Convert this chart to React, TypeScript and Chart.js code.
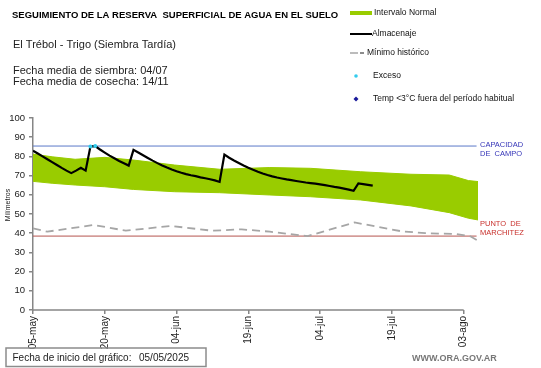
import React, { useEffect, useRef } from 'react';
import { Chart, registerables } from 'chart.js';

Chart.register(...registerables);

// ---- data ----
const TICK_DAYS = [0, 15, 30, 45, 60, 75, 90];
const TICK_LABELS = ['05-may', '20-may', '04-jun', '19-jun', '04-jul', '19-jul', '03-ago'];

// Almacenaje: daily values from 05-may (day 0)
const ALMACENAJE = [
  83.0, 81.5, 80.0, 78.5, 77.0, 75.5, 74.0, 72.6, 71.3, 72.6,
  74.1, 72.6, 85.2, 85.4, 83.6, 82.0, 80.4, 79.0, 77.6, 76.4,
  75.2, 83.4, 82.0, 80.6, 79.2, 77.8, 76.5, 75.3, 74.2, 73.2,
  72.3, 71.5, 70.8, 70.2, 69.7, 69.1, 68.6, 68.1, 67.5, 66.7,
  80.9, 79.3, 77.9, 76.6, 75.3, 74.1, 73.0, 72.0, 71.1, 70.3,
  69.6, 69.0, 68.5, 68.0, 67.6, 67.2, 66.8, 66.4, 66.1, 65.8,
  65.4, 65.0, 64.6, 64.1, 63.7, 63.2, 62.7, 62.1, 65.9, 65.6,
  65.2, 64.8,
];

const EXCESO_DAYS = [12, 13];
const EXCESO_VALUES = [85.2, 85.4];

const BAND_DAYS = [0, 4, 8.8, 15, 21, 29.6, 39, 49.5, 58, 68.5, 79, 87, 91, 93];
const BAND_UPPER = [81.2, 79.8, 78.5, 79.5, 78.1, 75.5, 73.3, 74.2, 73.8, 72.0, 70.7, 70.3, 67.4, 66.9];
const BAND_LOWER = [67.0, 66.0, 65.1, 64.2, 62.8, 61.6, 61.1, 59.9, 59.0, 57.3, 54.2, 50.7, 47.8, 46.9];

const MIN_DAYS = [0, 3, 12.7, 19.4, 28.8, 37.4, 43.6, 49.5, 57.4, 67.2, 77, 82, 88.5, 91.4, 93];
const MIN_VALUES = [42.5, 40.8, 44.3, 41.3, 43.8, 41.3, 42.0, 40.8, 38.5, 45.6, 41.0, 40.0, 39.6, 38.4, 36.1];

const CAPACIDAD = 85.4;
const MARCHITEZ = 38.5;
const REF_DAYS = [0, 92.7];

// ---- styles ----
const FONT = '"Liberation Sans", Arial, sans-serif';
const AXIS_COLOR = '#868686';
const GREEN = '#99cc00';

const pts = (xs: number[], ys: number[]) => xs.map((x, i) => ({ x, y: ys[i] }));

const overlay = {
  id: 'overlay',
  afterDraw(chart: any) {
    const ctx = chart.ctx as CanvasRenderingContext2D;
    const xs = chart.scales.x;
    const ys = chart.scales.y;
    ctx.save();
    // x axis line (ends at last tick)
    ctx.strokeStyle = AXIS_COLOR;
    ctx.lineWidth = 1.5;
    const y0 = ys.getPixelForValue(0);
    ctx.beginPath();
    ctx.moveTo(xs.getPixelForValue(0), y0);
    ctx.lineTo(xs.getPixelForValue(TICK_DAYS[TICK_DAYS.length - 1]), y0);
    ctx.stroke();

    ctx.textBaseline = 'middle';
    ctx.textAlign = 'left';
    // title block
    ctx.fillStyle = '#000';
    ctx.font = `bold 9.5px ${FONT}`;
    ctx.fillText('SEGUIMIENTO DE LA RESERVA  SUPERFICIAL DE AGUA EN EL SUELO', 12, 15);
    ctx.fillStyle = '#222';
    ctx.font = `11px ${FONT}`;
    ctx.fillText('El Trébol - Trigo (Siembra Tardía)', 13, 45);
    ctx.fillText('Fecha media de siembra: 04/07', 13, 71);
    ctx.fillText('Fecha media de cosecha: 14/11', 13, 82);

    // legend
    ctx.font = `8.5px ${FONT}`;
    ctx.fillStyle = GREEN;
    ctx.fillRect(350, 11, 22, 4);
    ctx.fillStyle = '#111';
    ctx.fillText('Intervalo Normal', 374, 13);

    ctx.strokeStyle = '#000';
    ctx.lineWidth = 2;
    ctx.beginPath();
    ctx.moveTo(350, 34);
    ctx.lineTo(372, 34);
    ctx.stroke();
    ctx.fillText('Almacenaje', 372, 34);

    ctx.strokeStyle = '#a6a6a6';
    ctx.lineWidth = 1.5;
    ctx.beginPath();
    ctx.moveTo(350, 53);
    ctx.lineTo(358, 53);
    ctx.stroke();
    ctx.strokeStyle = '#666';
    ctx.beginPath();
    ctx.moveTo(360, 53);
    ctx.lineTo(364, 53);
    ctx.stroke();
    ctx.fillText('Mínimo histórico', 367, 53);

    ctx.fillStyle = '#33ccee';
    ctx.beginPath();
    ctx.arc(356, 76, 1.8, 0, Math.PI * 2);
    ctx.fill();
    ctx.fillStyle = '#111';
    ctx.fillText('Exceso', 373, 76);

    ctx.fillStyle = '#1a1a9a';
    ctx.beginPath();
    ctx.moveTo(356, 96.5);
    ctx.lineTo(358.5, 99);
    ctx.lineTo(356, 101.5);
    ctx.lineTo(353.5, 99);
    ctx.closePath();
    ctx.fill();
    ctx.fillStyle = '#111';
    ctx.fillText('Temp <3°C fuera del período habitual', 373, 99);

    // reference line labels
    const xr = chart.chartArea.right + 2;
    const pc = ys.getPixelForValue(CAPACIDAD);
    const pm = ys.getPixelForValue(MARCHITEZ);
    ctx.font = `7.5px ${FONT}`;
    ctx.fillStyle = '#3535b8';
    ctx.fillText('CAPACIDAD', xr, pc - 1);
    ctx.fillText('DE  CAMPO', xr, pc + 8);
    ctx.fillStyle = '#c8302c';
    ctx.fillText('PUNTO  DE', xr, pm - 12);
    ctx.fillText('MARCHITEZ', xr, pm - 3);

    // y axis title
    ctx.save();
    ctx.translate(8, 205);
    ctx.rotate(-Math.PI / 2);
    ctx.textAlign = 'center';
    ctx.fillStyle = '#222';
    ctx.font = `7px ${FONT}`;
    ctx.fillText('Milímetros', 0, 0);
    ctx.restore();

    // bottom box
    ctx.strokeStyle = '#8c8c8c';
    ctx.lineWidth = 1.5;
    ctx.strokeRect(6, 348, 200, 18.5);
    ctx.fillStyle = '#222';
    ctx.font = `10px ${FONT}`;
    ctx.fillText('Fecha de inicio del gráfico:', 12.5, 358);
    ctx.fillText('05/05/2025', 139, 358);

    ctx.fillStyle = '#777';
    ctx.font = `bold 9px ${FONT}`;
    ctx.fillText('WWW.ORA.GOV.AR', 412, 359);
    ctx.restore();
  },
};

export default function App() {
  const ref = useRef<HTMLCanvasElement>(null);
  useEffect(() => {
    if (!ref.current) return;
    const chart = new Chart(ref.current, {
      type: 'line',
      data: {
        datasets: [
          {
            label: 'upper',
            data: pts(BAND_DAYS, BAND_UPPER),
            borderColor: GREEN,
            borderWidth: 1,
            backgroundColor: GREEN,
            pointRadius: 0,
            fill: false,
            order: 6,
          },
          {
            label: 'Intervalo Normal',
            data: pts(BAND_DAYS, BAND_LOWER),
            borderColor: GREEN,
            borderWidth: 1,
            backgroundColor: GREEN,
            pointRadius: 0,
            fill: '-1',
            order: 5,
          },
          {
            label: 'Capacidad',
            data: pts(REF_DAYS, [CAPACIDAD, CAPACIDAD]),
            borderColor: '#5b78c8',
            borderWidth: 1,
            pointRadius: 0,
            order: 4,
          },
          {
            label: 'Marchitez',
            data: pts(REF_DAYS, [MARCHITEZ, MARCHITEZ]),
            borderColor: '#b5534f',
            borderWidth: 1,
            pointRadius: 0,
            order: 4,
          },
          {
            label: 'Mínimo histórico',
            data: pts(MIN_DAYS, MIN_VALUES),
            borderColor: '#a6a6a6',
            borderWidth: 1.8,
            borderDash: [8, 5],
            pointRadius: 0,
            order: 3,
          },
          {
            label: 'Almacenaje',
            data: ALMACENAJE.map((v, i) => ({ x: i, y: v })),
            borderColor: '#000',
            borderWidth: 2.2,
            pointRadius: 0,
            order: 2,
          },
          {
            label: 'Exceso',
            data: pts(EXCESO_DAYS, EXCESO_VALUES),
            borderColor: '#33ccee',
            backgroundColor: '#33ccee',
            showLine: false,
            pointRadius: 2,
            pointBorderWidth: 0,
            order: 1,
          },
        ],
      },
      options: {
        animation: false,
        responsive: false,
        devicePixelRatio: 1,
        layout: { padding: { left: 0, top: 118, right: 63, bottom: 0 } },
        plugins: { legend: { display: false }, tooltip: { enabled: false }, title: { display: false } },
        scales: {
          x: {
            type: 'linear',
            min: 0,
            max: 93,
            afterBuildTicks: (s: any) => {
              s.ticks = TICK_DAYS.map((v) => ({ value: v }));
            },
            afterFit: (s: any) => {
              s.height = 58;
            },
            ticks: {
              autoSkip: false,
              minRotation: 90,
              maxRotation: 90,
              padding: 2,
              color: '#222',
              font: { family: FONT, size: 10 },
              callback: (_v: any, i: number) => TICK_LABELS[i] ?? '',
            },
            grid: { drawOnChartArea: false, tickLength: 4, color: AXIS_COLOR, lineWidth: 1.5 },
            border: { display: false },
          },
          y: {
            min: 0,
            max: 100,
            afterFit: (s: any) => {
              s.width = 33;
            },
            ticks: { stepSize: 10, padding: 4, color: '#222', font: { family: FONT, size: 9.5 } },
            grid: { drawOnChartArea: false, tickLength: 4, color: AXIS_COLOR, lineWidth: 1.5 },
            border: { color: AXIS_COLOR, width: 1.5 },
          },
        },
      },
      plugins: [overlay],
    } as any);
    return () => chart.destroy();
  }, []);

  return (
    <div style={{ position: 'fixed', left: 0, top: 0, width: 541, height: 368, background: '#fff' }}>
      <canvas ref={ref} width={541} height={368} style={{ display: 'block', width: 541, height: 368 }} />
    </div>
  );
}
